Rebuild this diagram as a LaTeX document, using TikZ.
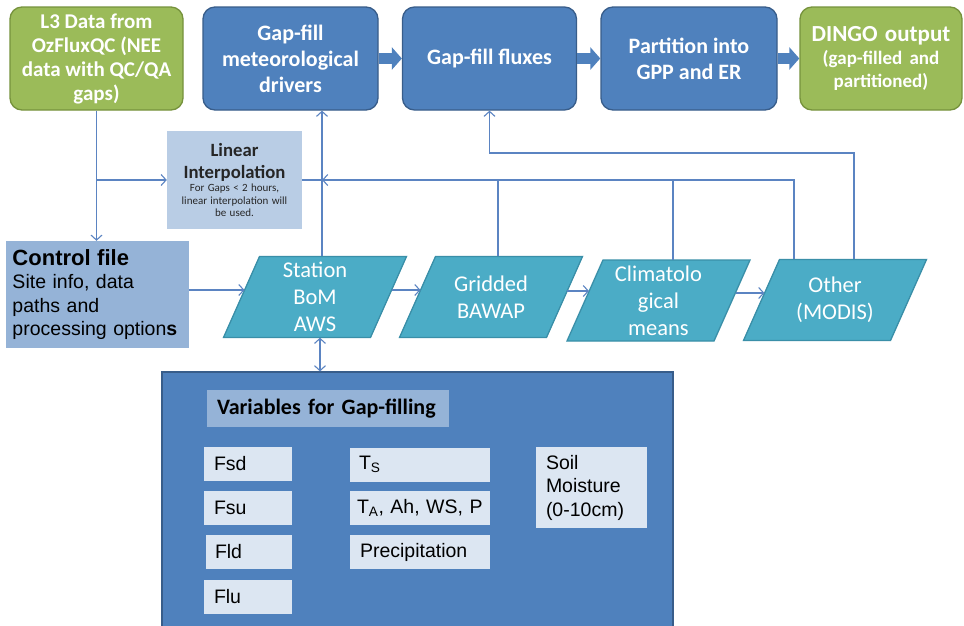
\documentclass[tikz,border=0pt]{standalone}
\usepackage{fontspec}
\setmainfont{Carlito}
\newfontfamily\arialf{Liberation Sans}
\usetikzlibrary{arrows.meta,calc}
\definecolor{ofgreen}{HTML}{9BBB59}
\definecolor{ofgreenD}{HTML}{76923C}
\definecolor{ofblue}{HTML}{4F81BD}
\definecolor{ofblueD}{HTML}{385D8A}
\definecolor{ofteal}{HTML}{4BACC6}
\definecolor{oftealD}{HTML}{3A8FA8}
\definecolor{ctrlblue}{HTML}{95B3D7}
\definecolor{linblue}{HTML}{B9CDE5}
\definecolor{varbg}{HTML}{DCE6F2}
\definecolor{hdrblue}{HTML}{95B3D7}
\definecolor{connc}{HTML}{5B84C2}
\tikzset{
  topbox/.style={rounded corners=12pt, line width=1.3pt, minimum height=103pt, inner sep=2pt,
    align=center, text=white, font=\bfseries\fontsize{22}{26}\selectfont},
  conn/.style={draw=connc, line width=1.1pt},
  tip/.style={-{Straight Barb[length=5pt,width=11pt]}},
  dtip/.style={{Straight Barb[length=5pt,width=11pt]}-{Straight Barb[length=5pt,width=11pt]}},
  blk/.style={draw=ofblue, line width=11pt, -{Triangle[length=10pt,width=22pt]}},
  pgtext/.style={minimum width=147pt, minimum height=81pt, inner sep=0pt, align=center,
    text=white, font=\fontsize{22.5}{27}\selectfont},
  pgram/.style={fill=ofteal, draw=oftealD, line width=1.3pt},
  vbox/.style={fill=varbg, inner ysep=0pt, align=left, minimum height=34pt,
    font=\arialf\fontsize{19.5}{23.5}\selectfont},
}
\newcommand\mypgram[4]{%
  \draw[pgram] ({#2-55.5},{#3-40.5}) -- ({#2+91.5},{#3-40.5}) -- ({#2+55.5},{#3+40.5}) -- ({#2-91.5},{#3+40.5}) -- cycle;
  \node[pgtext] (#1) at (#2,#3) {#4};}
\begin{document}
\begin{tikzpicture}[x=1pt,y=-1pt]
\useasboundingbox (0,0) rectangle (964,625);
\clip (0,0) rectangle (964,625);
\fill[white] (0,0) rectangle (964,625);

% top row
\node[topbox, fill=ofgreen, draw=ofgreenD, minimum width=173pt, font=\bfseries\fontsize{21}{24}\selectfont] (l3) at (96.5,58.5)
  {L3 Data from\\OzFluxQC (NEE\\data with QC/QA\\gaps)};
\node[topbox, fill=ofblue, draw=ofblueD, minimum width=175pt] (met) at (290.5,58.5)
  {Gap-fill\\meteorological\\drivers};
\node[topbox, fill=ofblue, draw=ofblueD, minimum width=174pt] (fl) at (489.5,58.5)
  {Gap-fill fluxes};
\node[topbox, fill=ofblue, draw=ofblueD, minimum width=176pt] (pt) at (689,58.5)
  {Partition into\\GPP and ER};
\node[topbox, fill=ofgreen, draw=ofgreenD, minimum width=162pt, text width=156pt] (dg) at (881,58.5)
  {{\fontsize{23}{25}\selectfont DINGO output\par}{\fontsize{19}{23}\selectfont (gap-filled and\\partitioned)\par}};

\draw[blk] (met.east) -- (fl.west);
\draw[blk] (fl.east) -- (pt.west);
\draw[blk] (pt.east) -- (dg.west);

% linear interpolation
\node[fill=linblue, minimum width=135pt, minimum height=98pt, inner xsep=2.5pt, inner ysep=0pt,
  text width=130pt, align=center, text=black!85] (li) at (234.5,180)
  {{\bfseries\fontsize{18.7}{22}\selectfont Linear\\Interpolation\par}\vspace{1pt}%
   {\fontsize{11}{12.5}\selectfont For Gaps < 2 hours,\\linear interpolation will\\be used.\par}};

% control file
\node[fill=ctrlblue, minimum width=183pt, minimum height=107pt, inner xsep=6.5pt, text width=170pt,
  align=left, text=black, font=\arialf\fontsize{19.5}{23.5}\selectfont] (ctrl) at (97.5,294.5)
  {{\bfseries\fontsize{22}{24}\selectfont Control file\par}Site info, data\\paths and\\processing option\textbf{s}};

% parallelograms
\mypgram{st}{315}{297}{Station\\BoM\\AWS}
\mypgram{gr}{491}{297}{Gridded\\BAWAP}
\mypgram{cl}{658.5}{300.5}{Climatolo\\gical\\means}
\mypgram{oth}{835}{300}{Other\\(MODIS)}

% big box
\node[draw=ofblueD, fill=ofblue, line width=1.2pt, minimum width=511pt, minimum height=270pt, inner sep=0pt]
  (big) at (417.5,507) {};
\node[fill=hdrblue, minimum width=242pt, minimum height=37pt, inner xsep=10pt, inner ysep=0pt, text width=222pt,
  align=left, font=\bfseries\fontsize{22}{25}\selectfont] (hdr) at (328,408.5) {Variables for Gap-filling};
\node[vbox, minimum width=88pt, inner xsep=10pt, text width=68pt] (fsd) at (248,464) {Fsd};
\node[vbox, minimum width=88pt, inner xsep=10pt, text width=68pt] (fsu) at (248,507.5) {Fsu};
\node[vbox, minimum width=86pt, inner xsep=9pt, text width=68pt] (fld) at (249,551.5) {Fld};
\node[vbox, minimum width=88pt, inner xsep=10pt, text width=68pt] (flu) at (248,596.5) {Flu};
\node[vbox, minimum width=140pt, inner xsep=9pt, text width=122pt] (ts) at (420,464.5) {T\textsubscript{S}};
\node[vbox, minimum width=140pt, inner xsep=7pt, text width=126pt] (ta) at (420,507.5) {T\textsubscript{A}, Ah, WS, P};
\node[vbox, minimum width=140pt, inner xsep=10pt, text width=120pt] (pr) at (420,552) {Precipitation};
\node[vbox, minimum width=111pt, minimum height=81pt, inner xsep=10pt, text width=91pt] (sm) at (591.5,487.5)
  {Soil\\Moisture\\(0-10cm)};

% connectors
\coordinate (jn) at (322,180);
\draw[conn,tip] (l3.south) -- (l3.south |- ctrl.north);
\draw[conn,tip] (l3.south |- li.west) -- (li.west);
\draw[conn] (li.east) -- (jn);
\draw[conn,tip] (322,0 |- st.north) -- (322,0 |- met.south);
\draw[conn,tip] (794,0 |- oth.north) |- (jn);
\draw[conn] (498,0 |- gr.north) -- (498,180);
\draw[conn] (673,0 |- cl.north) -- (673,180);
\draw[conn,tip] (854,0 |- oth.north) |- (fl.south |- 0,153) -- (fl.south);
\draw[conn,tip] (ctrl.east |- 0,290) -- ($(st.west)+(3.2,-7)$);
\draw[conn,tip] ($(st.east)+(3.2,-7)$) -- ($(gr.west)+(3.2,-7)$);
\draw[conn,tip] ($(gr.east)+(2.7,-6)$) -- ($(cl.west)+(4.2,-9.5)$);
\draw[conn,tip] ($(cl.east)+(3.3,-7.5)$) -- ($(oth.west)+(3.1,-7)$);
\draw[conn,dtip] (320,0 |- st.south) -- (320,0 |- big.north);
\end{tikzpicture}
\end{document}
